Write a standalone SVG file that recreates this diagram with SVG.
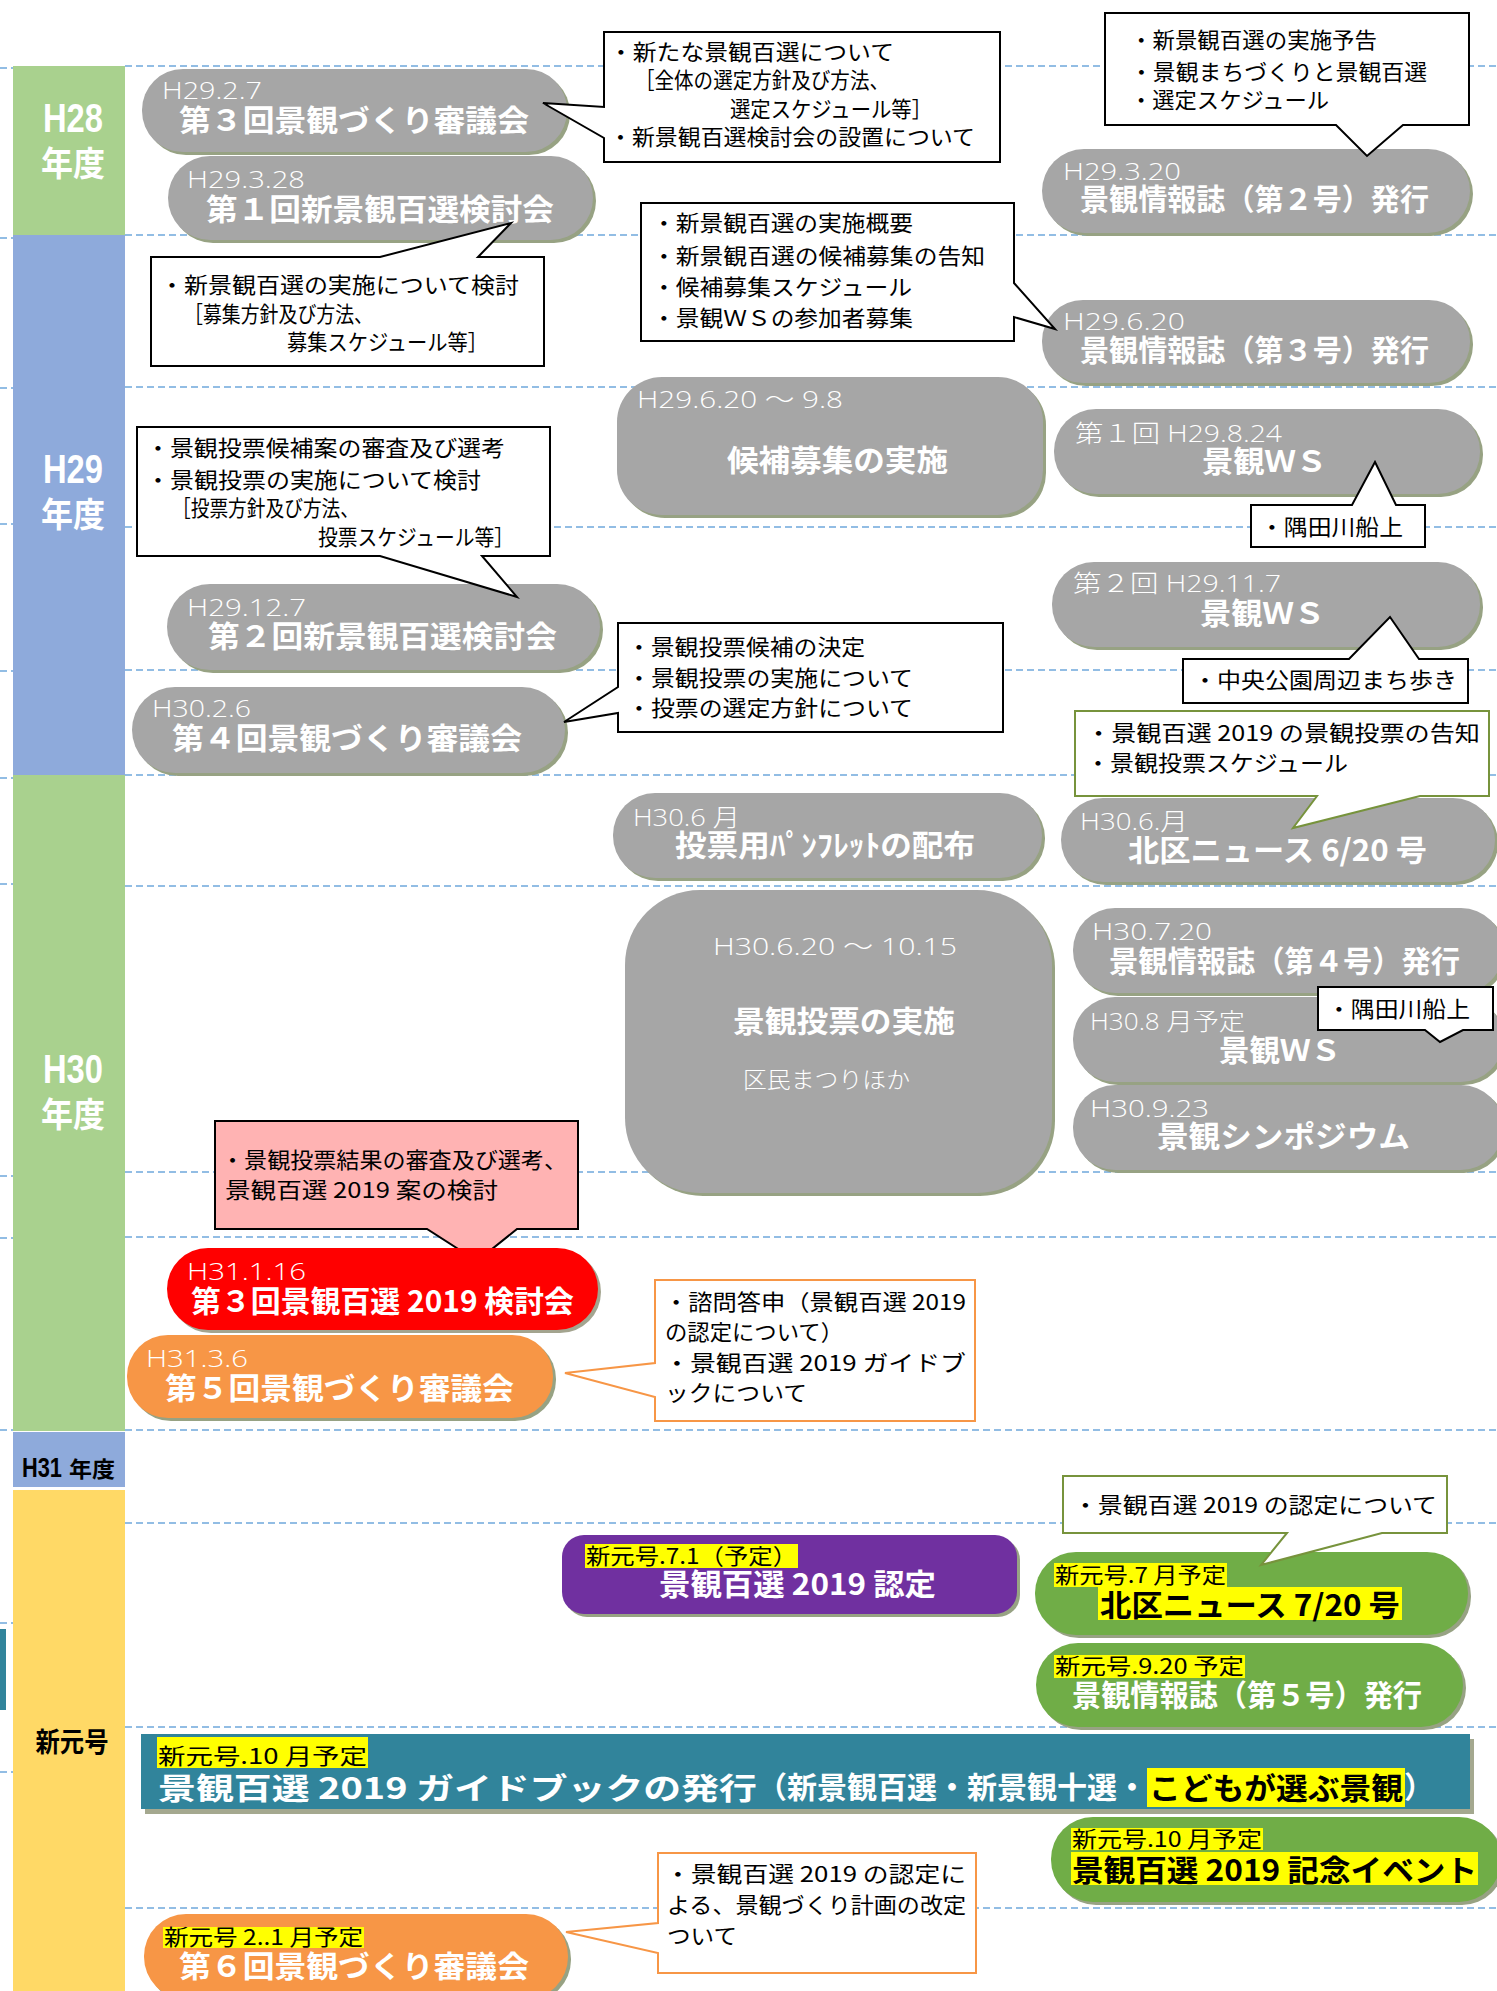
<svg xmlns="http://www.w3.org/2000/svg" width="1497" height="1991" viewBox="0 0 1497 1991">
<style>
.dash{stroke:#6fa8dc;stroke-width:1.6;stroke-dasharray:7 4;fill:none}
.pill{fill:#a6a6a6}
.sh{fill:#97a283}
.date{font-family:'Open Sans','Liberation Sans','Noto Sans CJK JP',sans-serif;font-weight:300;font-size:24px;fill:#fff}
.ti{font-family:'Noto Sans CJK JP',sans-serif;font-weight:700;font-size:30px;fill:#fff}
.tb{font-family:'Noto Sans CJK JP',sans-serif;font-weight:700;font-size:30px;fill:#000}
.co{fill:#fff;stroke:#000;stroke-width:2}
.cg{fill:#fff;stroke:#77933c;stroke-width:2}
.cor{fill:#fff;stroke:#f79646;stroke-width:2}
.ct{font-family:'Noto Sans CJK JP',sans-serif;font-size:22px;fill:#000}
.yl{fill:#ffff00}
.hd{font-family:'Noto Sans CJK JP',sans-serif;font-size:22px;fill:#000}
.yr{font-family:'Liberation Sans','Noto Sans CJK JP',sans-serif;font-weight:700;fill:#fff}
</style>

<g id="guides">
<path class="dash" d="M125 66H1497M125 235H1497M125 387H1497M125 527H1497M125 670H1497M125 775H1497M125 886H1497M125 1172H1497M125 1237H1497M125 1430H1497M125 1523H1497M125 1727H1497M125 1908H1497"/>
<path class="dash" d="M0 68H45M0 238H45M0 388H45M0 524H45M0 671H45M0 778H45M0 884H45M0 1176H48M0 1238H48M0 1430H45M0 1623H42M0 1772H43"/>
</g>

<g id="years">
<rect x="13" y="66" width="112" height="169" fill="#a9d18e"/>
<rect x="13" y="235" width="112" height="540" fill="#8eaadb"/>
<rect x="13" y="775" width="112" height="656" fill="#a9d18e"/>
<rect x="13" y="1432" width="112" height="55" fill="#8eaadb"/>
<rect x="13" y="1490" width="112" height="501" fill="#ffd966"/>
<rect x="0" y="1629" width="6" height="81" fill="#31849b"/>
<text class="yr" x="73" y="132" font-size="40" text-anchor="middle" textLength="60" lengthAdjust="spacingAndGlyphs">H28</text>
<text class="yr" x="73" y="176" font-size="34" text-anchor="middle" textLength="64" lengthAdjust="spacingAndGlyphs" font-family="'Noto Sans CJK JP',sans-serif">年度</text>
<text class="yr" x="73" y="483" font-size="40" text-anchor="middle" textLength="60" lengthAdjust="spacingAndGlyphs">H29</text>
<text class="yr" x="73" y="527" font-size="34" text-anchor="middle" textLength="64" lengthAdjust="spacingAndGlyphs" font-family="'Noto Sans CJK JP',sans-serif">年度</text>
<text class="yr" x="73" y="1083" font-size="40" text-anchor="middle" textLength="60" lengthAdjust="spacingAndGlyphs">H30</text>
<text class="yr" x="73" y="1127" font-size="34" text-anchor="middle" textLength="64" lengthAdjust="spacingAndGlyphs" font-family="'Noto Sans CJK JP',sans-serif">年度</text>
<text x="22" y="1477" font-family="'Liberation Sans',sans-serif" font-weight="700" font-size="28" fill="#000" textLength="40" lengthAdjust="spacingAndGlyphs">H31</text>
<text x="69" y="1477" font-family="'Noto Sans CJK JP',sans-serif" font-weight="700" font-size="22" fill="#000" textLength="46" lengthAdjust="spacingAndGlyphs">年度</text>
<text x="72" y="1752" font-family="'Noto Sans CJK JP',sans-serif" font-weight="700" font-size="27" fill="#000" text-anchor="middle" textLength="73" lengthAdjust="spacingAndGlyphs">新元号</text>
</g>

<g id="n-h2927">
<rect class="sh" x="145" y="72" width="425" height="83" rx="41"/>
<rect class="pill" x="142" y="69" width="425" height="83" rx="41"/>
<text class="date" x="162" y="99" textLength="100" lengthAdjust="spacingAndGlyphs">H29.2.7</text>
<text class="ti" x="179" y="131" textLength="350" lengthAdjust="spacingAndGlyphs">第３回景観づくり審議会</text>
</g>

<g id="n-h29328">
<rect class="sh" x="171" y="159" width="425" height="84" rx="42"/>
<rect class="pill" x="168" y="156" width="425" height="84" rx="42"/>
<text class="date" x="187" y="188" textLength="118" lengthAdjust="spacingAndGlyphs">H29.3.28</text>
<text class="ti" x="206" y="220" textLength="348" lengthAdjust="spacingAndGlyphs">第１回新景観百選検討会</text>
</g>

<g id="c-a">
<path class="co" d="M604 32H1000V162H604V138L543 103L604 107Z"/>
<text class="ct" x="609" y="60" textLength="285" lengthAdjust="spacingAndGlyphs">・新たな景観百選について</text>
<text class="ct" x="635" y="88" font-size="20" textLength="254" lengthAdjust="spacingAndGlyphs">［全体の選定方針及び方法、</text>
<text class="ct" x="730" y="117" font-size="20" textLength="202" lengthAdjust="spacingAndGlyphs">選定スケジュール等］</text>
<text class="ct" x="609" y="145" textLength="366" lengthAdjust="spacingAndGlyphs">・新景観百選検討会の設置について</text>
</g>

<g id="n-h29320">
<rect class="sh" x="1045" y="152" width="428" height="84" rx="42"/>
<rect class="pill" x="1042" y="149" width="428" height="84" rx="42"/>
<text class="date" x="1063" y="180" textLength="118" lengthAdjust="spacingAndGlyphs">H29.3.20</text>
<text class="ti" x="1080" y="210" textLength="349" lengthAdjust="spacingAndGlyphs">景観情報誌（第２号）発行</text>
</g>

<g id="c-b">
<path class="co" d="M1105 13H1469V125H1403L1367 156L1336 125H1105Z"/>
<text class="ct" x="1130" y="48" textLength="247" lengthAdjust="spacingAndGlyphs">・新景観百選の実施予告</text>
<text class="ct" x="1130" y="80" textLength="297" lengthAdjust="spacingAndGlyphs">・景観まちづくりと景観百選</text>
<text class="ct" x="1130" y="108" textLength="199" lengthAdjust="spacingAndGlyphs">・選定スケジュール</text>
</g>

<g id="c-c">
<path class="co" d="M151 257H380L511 223L478 257H544V366H151Z"/>
<text class="ct" x="160" y="293" textLength="359" lengthAdjust="spacingAndGlyphs">・新景観百選の実施について検討</text>
<text class="ct" x="184" y="322" font-size="20" textLength="189" lengthAdjust="spacingAndGlyphs">［募集方針及び方法、</text>
<text class="ct" x="287" y="350" font-size="20" textLength="201" lengthAdjust="spacingAndGlyphs">募集スケジュール等］</text>
</g>

<g id="n-h29620">
<rect class="sh" x="1045" y="303" width="428" height="83" rx="41"/>
<rect class="pill" x="1042" y="300" width="428" height="83" rx="41"/>
<text class="date" x="1063" y="330" textLength="122" lengthAdjust="spacingAndGlyphs">H29.6.20</text>
<text class="ti" x="1080" y="361" textLength="349" lengthAdjust="spacingAndGlyphs">景観情報誌（第３号）発行</text>
</g>

<g id="c-d">
<path class="co" d="M641 203H1014V283L1055 329L1014 317V341H641Z"/>
<text class="ct" x="652" y="231" textLength="261" lengthAdjust="spacingAndGlyphs">・新景観百選の実施概要</text>
<text class="ct" x="652" y="264" textLength="333" lengthAdjust="spacingAndGlyphs">・新景観百選の候補募集の告知</text>
<text class="ct" x="652" y="295" textLength="260" lengthAdjust="spacingAndGlyphs">・候補募集スケジュール</text>
<text class="ct" x="652" y="326" textLength="261" lengthAdjust="spacingAndGlyphs">・景観ＷＳの参加者募集</text>
</g>

<g id="n-koho">
<rect class="sh" x="620" y="380" width="426" height="138" rx="45"/>
<rect class="pill" x="617" y="377" width="426" height="138" rx="45"/>
<text class="date" x="637" y="408" textLength="206" lengthAdjust="spacingAndGlyphs">H29.6.20 ～ 9.8</text>
<text class="ti" x="727" y="471" textLength="221" lengthAdjust="spacingAndGlyphs">候補募集の実施</text>
</g>

<g id="n-ws1">
<rect class="sh" x="1057" y="412" width="426" height="85" rx="42"/>
<rect class="pill" x="1054" y="409" width="426" height="85" rx="42"/>
<text class="date" x="1075" y="442" textLength="207" lengthAdjust="spacingAndGlyphs">第１回 H29.8.24</text>
<text class="ti" x="1202" y="472" textLength="125" lengthAdjust="spacingAndGlyphs">景観ＷＳ</text>
</g>

<g id="c-e">
<path class="co" d="M1251 505H1352L1375 462L1396 505H1425V547H1251Z"/>
<text class="ct" x="1260" y="535" textLength="143" lengthAdjust="spacingAndGlyphs">・隅田川船上</text>
</g>

<g id="n-h29127">
<rect class="sh" x="170" y="587" width="433" height="86" rx="43"/>
<rect class="pill" x="167" y="584" width="433" height="86" rx="43"/>
<text class="date" x="187" y="616" textLength="119" lengthAdjust="spacingAndGlyphs">H29.12.7</text>
<text class="ti" x="208" y="647" textLength="349" lengthAdjust="spacingAndGlyphs">第２回新景観百選検討会</text>
</g>

<g id="c-g">
<path class="co" d="M137 427H550V556H482L517 597L380 556H137Z"/>
<text class="ct" x="146" y="456" textLength="359" lengthAdjust="spacingAndGlyphs">・景観投票候補案の審査及び選考</text>
<text class="ct" x="146" y="488" textLength="335" lengthAdjust="spacingAndGlyphs">・景観投票の実施について検討</text>
<text class="ct" x="172" y="516" font-size="20" textLength="187" lengthAdjust="spacingAndGlyphs">［投票方針及び方法、</text>
<text class="ct" x="318" y="545" font-size="20" textLength="196" lengthAdjust="spacingAndGlyphs">投票スケジュール等］</text>
</g>

<g id="n-ws2">
<rect class="sh" x="1055" y="565" width="428" height="85" rx="42"/>
<rect class="pill" x="1052" y="562" width="428" height="85" rx="42"/>
<text class="date" x="1073" y="592" textLength="208" lengthAdjust="spacingAndGlyphs">第２回 H29.11.7</text>
<text class="ti" x="1200" y="624" textLength="125" lengthAdjust="spacingAndGlyphs">景観ＷＳ</text>
</g>

<g id="c-f">
<path class="co" d="M1183 659H1349L1390 617L1419 659H1468V703H1183Z"/>
<text class="ct" x="1193" y="688" textLength="264" lengthAdjust="spacingAndGlyphs">・中央公園周辺まち歩き</text>
</g>

<g id="n-h3026">
<rect class="sh" x="135" y="690" width="433" height="86" rx="43"/>
<rect class="pill" x="132" y="687" width="433" height="86" rx="43"/>
<text class="date" x="152" y="717" textLength="99" lengthAdjust="spacingAndGlyphs">H30.2.6</text>
<text class="ti" x="172" y="749" textLength="350" lengthAdjust="spacingAndGlyphs">第４回景観づくり審議会</text>
</g>

<g id="c-h">
<path class="co" d="M618 623H1003V732H618V713L564 722L618 687Z"/>
<text class="ct" x="627" y="655" textLength="238" lengthAdjust="spacingAndGlyphs">・景観投票候補の決定</text>
<text class="ct" x="627" y="686" textLength="286" lengthAdjust="spacingAndGlyphs">・景観投票の実施について</text>
<text class="ct" x="627" y="716" textLength="286" lengthAdjust="spacingAndGlyphs">・投票の選定方針について</text>
</g>

<g id="n-pamph">
<rect class="sh" x="616" y="796" width="429" height="85" rx="42"/>
<rect class="pill" x="613" y="793" width="429" height="85" rx="42"/>
<text class="date" x="633" y="826" textLength="107" lengthAdjust="spacingAndGlyphs">H30.6 月</text>
<text class="ti" x="675" y="856" textLength="300" lengthAdjust="spacingAndGlyphs">投票用ﾊﾟﾝﾌﾚｯﾄの配布</text>
</g>

<g id="n-kitaku620">
<rect class="sh" x="1064" y="801" width="434" height="84" rx="42"/>
<rect class="pill" x="1061" y="798" width="434" height="84" rx="42"/>
<text class="date" x="1080" y="830" textLength="108" lengthAdjust="spacingAndGlyphs">H30.6.月</text>
<text class="ti" x="1128" y="861" textLength="299" lengthAdjust="spacingAndGlyphs">北区ニュース 6/20 号</text>
</g>

<g id="c-i">
<path class="cg" d="M1075 711H1489V796H1420L1293 828L1317 796H1075Z"/>
<text class="ct" x="1086" y="741" textLength="394" lengthAdjust="spacingAndGlyphs">・景観百選 2019 の景観投票の告知</text>
<text class="ct" x="1086" y="771" textLength="262" lengthAdjust="spacingAndGlyphs">・景観投票スケジュール</text>
</g>

<g id="n-vote">
<rect class="sh" x="628" y="893" width="427" height="303" rx="75"/>
<rect class="pill" x="625" y="890" width="427" height="303" rx="75"/>
<text class="date" x="713" y="955" textLength="244" lengthAdjust="spacingAndGlyphs">H30.6.20 ～ 10.15</text>
<text class="ti" x="733" y="1032" textLength="222" lengthAdjust="spacingAndGlyphs">景観投票の実施</text>
<text x="743" y="1088" font-family="'Noto Sans CJK JP',sans-serif" font-weight="300" font-size="23" fill="#fff" textLength="167" lengthAdjust="spacingAndGlyphs">区民まつりほか</text>
</g>

<g id="n-h30720">
<rect class="sh" x="1076" y="911" width="430" height="85" rx="42"/>
<rect class="pill" x="1073" y="908" width="430" height="85" rx="42"/>
<text class="date" x="1092" y="940" textLength="120" lengthAdjust="spacingAndGlyphs">H30.7.20</text>
<text class="ti" x="1109" y="972" textLength="351" lengthAdjust="spacingAndGlyphs">景観情報誌（第４号）発行</text>
</g>

<g id="n-ws3">
<rect class="sh" x="1076" y="1000" width="430" height="85" rx="42"/>
<rect class="pill" x="1073" y="997" width="430" height="85" rx="42"/>
<text class="date" x="1090" y="1030" textLength="155" lengthAdjust="spacingAndGlyphs">H30.8 月予定</text>
<text class="ti" x="1219" y="1061" textLength="122" lengthAdjust="spacingAndGlyphs">景観ＷＳ</text>
</g>

<g id="c-j">
<path class="co" d="M1318 987H1493V1030H1463L1440 1042L1425 1030H1318Z"/>
<text class="ct" x="1327" y="1017" textLength="143" lengthAdjust="spacingAndGlyphs">・隅田川船上</text>
</g>

<g id="n-symp">
<rect class="sh" x="1076" y="1088" width="430" height="85" rx="42"/>
<rect class="pill" x="1073" y="1085" width="430" height="85" rx="42"/>
<text class="date" x="1090" y="1117" textLength="119" lengthAdjust="spacingAndGlyphs">H30.9.23</text>
<text class="ti" x="1157" y="1147" textLength="253" lengthAdjust="spacingAndGlyphs">景観シンポジウム</text>
</g>

<g id="c-k">
<path d="M215 1121H578V1229H517L477 1261L427 1229H215Z" fill="#ffb3b3" stroke="#000" stroke-width="2"/>
<text class="ct" x="221" y="1168" textLength="346" lengthAdjust="spacingAndGlyphs">・景観投票結果の審査及び選考、</text>
<text class="ct" x="225" y="1198" textLength="273" lengthAdjust="spacingAndGlyphs">景観百選 2019 案の検討</text>
</g>

<g id="n-h31116">
<rect x="170" y="1251" width="431" height="82" rx="41" fill="#a3a48f"/>
<rect x="167" y="1248" width="431" height="82" rx="41" fill="#ff0000"/>
<text class="date" x="187" y="1280" textLength="119" lengthAdjust="spacingAndGlyphs">H31.1.16</text>
<text class="ti" x="191" y="1312" textLength="383" lengthAdjust="spacingAndGlyphs">第３回景観百選 2019 検討会</text>
</g>

<g id="n-h3136">
<rect class="sh" x="130" y="1338" width="426" height="83" rx="41"/>
<rect x="127" y="1335" width="426" height="83" rx="41" fill="#f79646"/>
<text class="date" x="146" y="1367" textLength="102" lengthAdjust="spacingAndGlyphs">H31.3.6</text>
<text class="ti" x="165" y="1399" textLength="349" lengthAdjust="spacingAndGlyphs">第５回景観づくり審議会</text>
</g>

<g id="c-l">
<path class="cor" d="M655 1280H975V1421H655V1397L565 1373L655 1363Z"/>
<text class="ct" x="664" y="1310" textLength="302" lengthAdjust="spacingAndGlyphs">・諮問答申（景観百選 2019</text>
<text class="ct" x="665" y="1340" textLength="178" lengthAdjust="spacingAndGlyphs">の認定について）</text>
<text class="ct" x="664" y="1371" textLength="302" lengthAdjust="spacingAndGlyphs">・景観百選 2019 ガイドブ</text>
<text class="ct" x="665" y="1401" textLength="142" lengthAdjust="spacingAndGlyphs">ックについて</text>
</g>

<g id="n-nintei">
<rect class="sh" x="565" y="1538" width="455" height="79" rx="22"/>
<rect x="562" y="1535" width="455" height="79" rx="22" fill="#7030a0"/>
<rect class="yl" x="585" y="1544" width="213" height="24"/>
<text class="hd" x="586" y="1564" textLength="211" lengthAdjust="spacingAndGlyphs">新元号.7.1（予定）</text>
<text class="ti" x="659" y="1595" textLength="277" lengthAdjust="spacingAndGlyphs">景観百選 2019 認定</text>
</g>

<g id="n-kitaku720">
<rect class="sh" x="1038" y="1555" width="433" height="83" rx="41"/>
<rect x="1035" y="1552" width="433" height="83" rx="41" fill="#70ad47"/>
<rect class="yl" x="1054" y="1563" width="173" height="24"/>
<text class="hd" x="1055" y="1583" textLength="171" lengthAdjust="spacingAndGlyphs">新元号.7 月予定</text>
<rect class="yl" x="1098" y="1587" width="304" height="33"/>
<text class="tb" x="1100" y="1616" textLength="300" lengthAdjust="spacingAndGlyphs">北区ニュース 7/20 号</text>
</g>

<g id="c-m">
<path class="cg" d="M1063 1476H1447V1533H1382L1261 1565L1287 1533H1063Z"/>
<text class="ct" x="1073" y="1513" textLength="364" lengthAdjust="spacingAndGlyphs">・景観百選 2019 の認定について</text>
</g>

<g id="n-joho5">
<rect class="sh" x="1039" y="1646" width="427" height="84" rx="42"/>
<rect x="1036" y="1643" width="427" height="84" rx="42" fill="#70ad47"/>
<rect class="yl" x="1054" y="1655" width="191" height="23"/>
<text class="hd" x="1055" y="1674" textLength="189" lengthAdjust="spacingAndGlyphs">新元号.9.20 予定</text>
<text class="ti" x="1072" y="1706" textLength="350" lengthAdjust="spacingAndGlyphs">景観情報誌（第５号）発行</text>
</g>

<g id="n-guidebook">
<rect x="145" y="1739" width="1329" height="75" fill="#a4a88f"/>
<rect x="141" y="1734" width="1329" height="75" fill="#31849b"/>
<rect class="yl" x="157" y="1737" width="211" height="31"/>
<text class="hd" x="158" y="1764" font-size="27" textLength="209" lengthAdjust="spacingAndGlyphs">新元号.10 月予定</text>
<text class="ti" x="158" y="1799" font-size="37" textLength="599" lengthAdjust="spacingAndGlyphs">景観百選 2019 ガイドブックの発行</text>
<text class="ti" x="757" y="1798" font-size="30" textLength="390" lengthAdjust="spacingAndGlyphs">（新景観百選・新景観十選・</text>
<rect class="yl" x="1147" y="1768" width="258" height="39"/>
<text class="tb" x="1149" y="1799" font-size="33" textLength="254" lengthAdjust="spacingAndGlyphs">こどもが選ぶ景観</text>
<text class="ti" x="1404" y="1798" font-size="30">）</text>
</g>

<g id="n-event">
<rect class="sh" x="1054" y="1820" width="450" height="85" rx="42"/>
<rect x="1051" y="1817" width="450" height="85" rx="42" fill="#70ad47"/>
<rect class="yl" x="1071" y="1828" width="192" height="22"/>
<text class="hd" x="1072" y="1847" textLength="190" lengthAdjust="spacingAndGlyphs">新元号.10 月予定</text>
<rect class="yl" x="1071" y="1852" width="407" height="33"/>
<text class="tb" x="1072" y="1881" textLength="405" lengthAdjust="spacingAndGlyphs">景観百選 2019 記念イベント</text>
</g>

<g id="n-shingikai6">
<rect class="sh" x="147" y="1917" width="424" height="85" rx="42"/>
<rect x="144" y="1914" width="424" height="85" rx="42" fill="#f79646"/>
<rect class="yl" x="163" y="1927" width="201" height="21"/>
<text class="hd" x="164" y="1945" textLength="199" lengthAdjust="spacingAndGlyphs">新元号 2..1 月予定</text>
<text class="ti" x="179" y="1977" textLength="350" lengthAdjust="spacingAndGlyphs">第６回景観づくり審議会</text>
</g>

<g id="c-n">
<path class="cor" d="M658 1853H976V1973H658V1953L566 1932L658 1923Z"/>
<text class="ct" x="665" y="1882" textLength="301" lengthAdjust="spacingAndGlyphs">・景観百選 2019 の認定に</text>
<text class="ct" x="667" y="1913" textLength="299" lengthAdjust="spacingAndGlyphs">よる、景観づくり計画の改定</text>
<text class="ct" x="667" y="1944" textLength="70" lengthAdjust="spacingAndGlyphs">ついて</text>
</g>
</svg>
